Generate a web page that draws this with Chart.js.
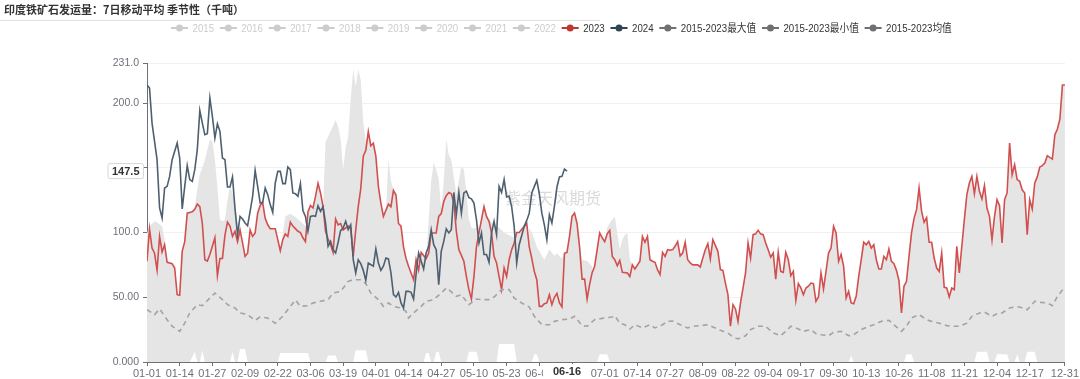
<!DOCTYPE html>
<html>
<head>
<meta charset="utf-8">
<script src="https://cdn.jsdelivr.net/npm/chart.js@4.4.1/dist/chart.umd.min.js"></script>
<style>
  html, body { margin: 0; padding: 0; background: #fff; }
  canvas { display: block; }
</style>
</head>
<body>
<canvas id="seasonChart" width="1080" height="379"></canvas>
<script>
// ================================
// DATA (day index of a leap year, value in kt)
// ================================
const tickDays = [0, 13, 26, 39, 52, 65, 78, 91, 104, 117, 130, 143, 156, 169, 182, 195, 208, 221, 234, 247, 260, 273, 286, 299, 312, 325, 338, 351, 365];
const tickLabels = ['01-01', '01-14', '01-27', '02-09', '02-22', '03-06', '03-19', '04-01', '04-14', '04-27', '05-10', '05-23', '06-05', '06-18',
  '07-01', '07-14', '07-27', '08-09', '08-22', '09-04', '09-17', '09-30', '10-13', '10-26', '11-08', '11-21', '12-04', '12-17', '12-31'];

const yTickValues = [0, 50, 100, 150, 200, 231];
const yTickLabels = ['0.000', '50.00', '100.0', '150.0', '200.0', '231.0'];

const series2023 = [[0,77.8],[1,102.8],[2,88],[3,84],[4,71],[5,97],[6,85],[7,90.6],[8,77],[10,76],[11,72.6],[12,52],[13,51.5],[14,85.5],[15,93],[16,115],[18,116],[19,118],[20,122],[21,120],[22,107],[23,79],[24,78],[25,83],[27,96],[28,66.7],[29,80],[30,80],[31,98],[32,108],[33,105],[34,97],[35,101],[36,93],[37,102],[38,92],[39,81.6],[40,84],[41,102],[42,97],[43,99.7],[44,115],[45,121],[46,123],[47,111],[48,106],[49,103],[51,103],[52,94.5],[53,86],[54,94.5],[55,99],[56,97],[57,108],[58,105],[59,103],[60,101],[61,100],[62,96],[63,93],[64,116],[65,121],[66,119],[67,128],[68,138],[69,130.6],[70,120],[71,101],[72,95],[73,90.6],[74,84.7],[75,110.5],[76,106],[77,107],[78,102],[80,105],[81,103.5],[82,81.6],[83,102],[84,120],[85,134],[86,159],[87,163.5],[88,178],[89,167],[90,169],[91,159],[92,135.7],[93,122.8],[94,112.5],[96,122],[97,120],[98,132.6],[99,129],[100,107],[101,105],[102,89],[103,80],[104,74],[105,68.8],[106,63.6],[107,79],[108,71],[109,84.7],[111,80],[112,84],[113,99.7],[115,99.7],[116,112.5],[117,114.6],[118,124],[119,128.5],[120,131],[121,130],[122,123],[123,101],[124,86.8],[126,77.8],[127,66],[128,55.9],[129,48.7],[130,66],[131,89],[132,99.7],[134,120],[135,112.5],[136,108.7],[137,99.7],[138,81.6],[139,76.5],[140,66],[141,55.9],[142,72.6],[143,66],[144,79],[145,86.8],[146,92],[147,100],[148,100],[150,104.8],[151,107],[152,89],[153,80],[154,70],[155,63.6],[156,43],[157,43],[158,45],[159,45.6],[160,52],[161,44.3],[162,50],[163,53],[164,45.6],[165,42.5],[166,84],[167,84.7],[168,97],[169,112.5],[170,115],[171,107],[172,89],[173,64],[174,64],[175,48.7],[176,60],[177,69],[178,74],[180,99.7],[181,96],[182,93],[183,99],[184,101.7],[185,81.6],[186,79],[187,74.4],[188,78.5],[189,69.3],[191,68.8],[192,66],[193,75],[194,71.9],[196,77.8],[197,97],[198,92.5],[199,97],[200,79],[201,77.8],[202,77],[203,71.3],[204,67.5],[205,84.7],[206,81.6],[207,86.8],[208,86.3],[209,86.8],[210,89.4],[211,93],[212,82],[213,84.2],[214,92.5],[215,79],[216,76.5],[217,75],[219,75],[220,73.4],[221,80.3],[222,86.8],[223,91.4],[224,79.6],[225,94.5],[227,85.5],[228,71.3],[229,70.8],[230,61],[231,52],[232,27.6],[233,44.3],[234,41],[235,31.4],[236,45.6],[238,68.8],[239,92],[240,80.3],[241,98.4],[242,99],[243,101.7],[244,99],[245,98.4],[246,92],[247,86.8],[248,81],[249,84.2],[250,64],[251,84.7],[252,70],[253,69.3],[254,84.7],[255,79],[256,66.7],[257,70],[258,47.6],[259,60.5],[260,57.2],[261,52],[262,57.2],[263,58.5],[264,61],[265,60.5],[266,46.9],[267,50.2],[268,68.8],[269,56.4],[270,70],[271,84.2],[272,88],[273,104.8],[274,99.7],[275,77.8],[276,83.2],[277,74],[278,49.4],[279,54.6],[280,45.6],[281,45],[282,50.7],[283,66.2],[284,79],[285,92.5],[286,90.6],[287,93.2],[288,88],[289,90.6],[290,79],[291,71.9],[292,71.9],[293,81.6],[294,79],[295,87.3],[296,77.8],[297,76],[298,70.8],[299,63],[300,37.9],[301,58.5],[302,62.3],[303,81.6],[304,99.7],[305,111],[306,117.7],[307,134.4],[308,116.4],[309,108],[310,111.5],[311,92.5],[312,92.5],[313,80.3],[314,72.6],[315,70],[316,84.2],[317,57.7],[318,57.2],[319,50.2],[320,57.2],[321,55.9],[322,89.4],[323,68.8],[324,89.4],[325,110],[326,129.3],[327,138.3],[328,143.4],[329,130],[330,143.4],[331,131.9],[332,126],[333,136.2],[334,119],[335,112.5],[336,94.5],[337,112.5],[338,125.4],[339,120.8],[340,92],[341,125.4],[342,130.6],[343,169.2],[344,144.7],[345,152.5],[346,140.9],[347,139.6],[348,133],[349,130.6],[350,98.4],[351,125.4],[352,118.2],[353,138.3],[354,143],[355,150.7],[356,151.7],[357,153.7],[358,159.4],[360,156.8],[361,175.6],[362,180],[363,187.7],[364,214],[365,214]];

const series2024 = [[0,214],[1,211.7],[2,184.6],[3,170.5],[4,156.3],[5,119],[6,111.2],[7,134.4],[8,135.7],[9,143.4],[10,156.3],[12,169.2],[13,157.6],[14,118.2],[15,135.7],[16,151.7],[17,140.9],[18,139.6],[19,148.6],[20,164],[21,194.4],[22,184.6],[23,175.6],[24,176.4],[25,204],[26,189.8],[27,173],[28,184],[29,178.2],[30,157.6],[31,156.3],[32,135.2],[33,135.2],[34,143],[35,118.2],[36,98.4],[37,112.5],[38,110.5],[39,107.4],[40,105.3],[41,116.4],[42,128],[43,148],[44,135.7],[45,122.8],[46,123.4],[47,134.4],[48,129.3],[49,121.6],[50,115.6],[51,138.3],[52,147.3],[53,147.3],[54,137.8],[55,137.8],[56,150.7],[57,148.6],[58,130.6],[59,130],[60,128],[61,137.8],[62,117],[63,112.5],[64,101],[65,112.5],[66,113],[67,112.5],[68,120.8],[69,116.4],[70,120],[71,107.4],[72,89.4],[73,93.2],[74,86.8],[75,84.2],[76,92.5],[77,101.7],[78,103.5],[79,108.7],[80,102.2],[81,106],[82,79],[83,68.8],[84,79],[85,76],[86,70.8],[87,63],[88,76.5],[90,74],[91,87.3],[92,76.5],[93,70.8],[94,74],[95,80.3],[96,79.6],[97,68.8],[98,52],[99,50.2],[100,53.8],[101,45.6],[102,41.7],[103,54.6],[104,54.6],[105,53.8],[106,48.7],[107,68],[108,84.2],[110,71.9],[111,84.2],[112,89.4],[113,102.2],[114,90.6],[115,86.8],[116,59.7],[117,85.5],[118,93.2],[119,102.8],[120,99.7],[121,102.2],[122,131],[123,113.8],[124,131],[125,115],[126,130.6],[127,131.9],[128,127],[129,126],[130,122.8],[131,110],[132,92],[133,99.7],[134,83],[135,83],[136,77],[137,99.7],[138,108.7],[139,98.4],[140,135.7],[141,131],[142,140.9],[143,127.5],[144,128],[145,120],[146,104.8],[147,76.5],[148,90.6],[150,104.8],[151,109.4],[152,115],[153,130.6],[154,135.5],[155,140.4],[156,130],[157,115],[158,106],[159,94.5],[160,113.8],[161,107.4],[162,120.3],[163,135],[164,143],[165,143.4],[166,149.1],[167,147.5]];

const seriesMean = [[0,40.4],[3,36.6],[5,41],[8,32.7],[10,27.6],[13,23.7],[15,30],[17,37.9],[20,44.3],[22,43.5],[25,49.4],[27,53.3],[30,48.2],[32,44.3],[35,41.7],[37,37.9],[40,36.6],[43,32.2],[45,34.8],[48,34],[51,30],[54,35.3],[57,43],[59,48],[61,43],[64,43.5],[66,45.6],[69,46.9],[72,48.2],[74,53.3],[77,54.6],[80,62.3],[82,63.6],[85,63.6],[87,60.5],[89,53.3],[92,48.2],[94,43],[96,45.6],[98,43],[101,41.7],[103,39.1],[104,34],[106,37.9],[109,43],[111,46.9],[114,48.2],[117,53.3],[119,57.2],[120,55.9],[123,50.7],[125,52],[128,44.3],[131,48.7],[133,48.2],[136,48.2],[138,50.2],[141,55.9],[144,55.9],[146,49.4],[149,45.6],[152,42.5],[154,35.3],[157,28.8],[160,28.8],[162,31.4],[165,32.7],[168,33.2],[170,35.3],[173,28.1],[175,27.6],[178,32.7],[182,34],[185,34.8],[186,35.8],[188,30],[190,28.8],[192,25.5],[194,28.8],[197,26.3],[200,28.8],[202,26.3],[205,28.8],[207,31.4],[209,31.7],[212,28.8],[215,26.3],[217,27.6],[220,28.1],[223,28.8],[225,27],[228,24.5],[231,22.4],[233,19.3],[235,17.8],[238,20.3],[240,25],[243,27.6],[246,27.6],[249,22.4],[252,20.3],[254,23.7],[256,27.6],[259,25.5],[261,23.7],[264,25],[266,21.9],[268,21.1],[271,20.3],[273,22.9],[276,23.7],[279,20.3],[281,21.1],[284,25],[287,27.6],[289,28.8],[292,31.4],[295,32.2],[297,28.8],[300,23.7],[302,27.6],[304,34],[307,36.6],[310,32.7],[312,31.4],[315,30],[318,28.1],[320,27.6],[323,27.6],[326,30],[328,35.3],[331,37.9],[333,38.6],[336,35.3],[338,37.3],[340,37.9],[343,41.7],[345,42.5],[347,42.5],[350,40.4],[353,46.9],[355,46.1],[358,45.6],[360,43.5],[362,50.7],[365,58]];

// 2015-2023 max, where it rises above the 2023 line (null = gap)
const seriesMax = [[0,99.7],[1,104.8],[3,108.7],[4,108],[6,104.8],[7,94.5],[8,77],[9,null],
  [18,116],[19,120],[20,133],[21,145],[22,150],[23,156],[24,164],[25,171.8],[26,170.5],[27,156],[28,135],[29,110],[30,108.7],[31,110],[32,125],[33,135.7],[34,130.6],[35,125],[36,108],[37,102],[38,null],
  [53,86],[54,100],[55,112.5],[57,114.6],[59,112],[61,108.7],[63,105],[64,116],[65,null],
  [70,120],[71,170],[73,178],[75,187],[76,182],[77,172],[78,149],[79,166],[80,174],[81,203],[82,226],[83,213],[84,226],[85,218],[86,185],[87,170],[88,178],[89,null],
  [95,115],[96,157],[97,140],[98,132.6],[99,null],
  [111,80],[112,110],[113,140],[114,154],[115,149],[116,141],[117,118],[118,140],[119,172],[120,160],[121,156],[122,143],[123,130],[124,140],[125,151],[126,149],[127,131],[128,110],[129,104],[130,103],[131,104],[132,105],[133,null],
  [136,110],[138,106],[140,104],[142,100],[144,98],[146,96],[147,100],[148,null],
  [152,104],[153,100],[154,95],[155,89],[157,82],[158,79],[160,87],[162,82],[163,84],[165,80],[166,84],[167,null],
  [172,89],[173,79],[175,78],[177,74],[178,null],
  [182,93],[183,104],[184,107.4],[185,110],[186,112.5],[187,99.7],[188,87],[189,94.5],[190,98.4],[191,99.7],[192,79],[193,75]];

// 2015-2023 min
const seriesMin = [[0,0],[17,0],[19,8],[20,0],[21,0],[22,9],[23,0],[33,0],[34,8],[35,0],[36,0],[37,10],[39,10],[40,0],[52,0],[53,7],[60,7],[64,7],[65,0],[71,0],[72,5],[75,5],[76,0],[82,0],[83,9],[87,9],[88,0],[110,0],[111,7],[112,7],[113,0],[114,0],[115,8],[116,8],[117,0],[127,0],[128,8],[131,8],[132,0],[139,0],[140,14],[146,14],[147,0],[153,0],[154,6],[155,6],[156,0],[179,0],[180,6],[183,6],[184,0],[279,0],[280,5],[281,0],[301,0],[302,6],[304,6],[305,0],[329,0],[330,8],[334,8],[335,0],[337,0],[338,6],[342,6],[343,0],[345,0],[346,6],[347,0],[349,0],[350,8],[353,8],[354,0],[365,0]];

const legendNames = ['2015', '2016', '2017', '2018', '2019', '2020', '2021', '2022', '2023', '2024', '2015-2023最大值', '2015-2023最小值', '2015-2023均值'];
const legendColors = ['#cccccc', '#cccccc', '#cccccc', '#cccccc', '#cccccc', '#cccccc', '#cccccc', '#cccccc', '#c23531', '#2f4554', '#6e7074', '#6e7074', '#6e7074'];
const legendTextColors = ['#cccccc', '#cccccc', '#cccccc', '#cccccc', '#cccccc', '#cccccc', '#cccccc', '#cccccc', '#333333', '#333333', '#333333', '#333333', '#333333'];

const chartTitle = '印度铁矿石发运量：7日移动平均 季节性（千吨）';
const watermark = '紫金天风期货';
const pointerDay = 167;
const pointerDayLabel = '06-16';
const pointerValue = 147.5;

// ================================
// Helpers
// ================================
const toPoints = arr => arr.map(([x, y]) => ({ x, y }));
const TICK_FONT = "'Liberation Sans', 'Noto Sans CJK SC', sans-serif";
const AXIS_COLOR = '#6e7079';
const AREA_GRAY = '#e5e5e5';
const LEGEND_SQUEEZE = 0.88;

// Title, legend, watermark, axis-pointer labels
const decorPlugin = {
  id: 'decor',
  beforeDatasetsDraw(chart) {
    const ctx = chart.ctx;
    ctx.save();
    ctx.font = "16px 'Noto Sans CJK SC', sans-serif";
    ctx.fillStyle = 'rgba(120,120,120,0.28)';
    ctx.textAlign = 'left';
    ctx.textBaseline = 'middle';
    ctx.fillText(watermark, 505, 198);
    ctx.restore();
  },
  afterDraw(chart) {
    const ctx = chart.ctx;
    ctx.save();

    // title
    ctx.font = "bold 11px 'Noto Sans CJK SC', sans-serif";
    ctx.fillStyle = '#333';
    ctx.textAlign = 'left';
    ctx.textBaseline = 'middle';
    ctx.fillText(chartTitle, 4, 10);

    ctx.strokeStyle = '#e0e0e0';
    ctx.lineWidth = 1;
    ctx.beginPath();
    ctx.moveTo(0, 20.5);
    ctx.lineTo(600, 20.5);
    ctx.stroke();

    // legend (text squeezed a little, like the narrow UI font of the original)
    ctx.font = '11px ' + TICK_FONT;
    let lx = 171;
    const ly = 28;
    legendNames.forEach((name, i) => {
      ctx.strokeStyle = legendColors[i];
      ctx.fillStyle = legendColors[i];
      ctx.lineWidth = 2;
      ctx.beginPath();
      ctx.moveTo(lx, ly);
      ctx.lineTo(lx + 17, ly);
      ctx.stroke();
      ctx.beginPath();
      ctx.arc(lx + 8.5, ly, 3.5, 0, Math.PI * 2);
      ctx.fill();
      ctx.fillStyle = legendTextColors[i];
      const tw = ctx.measureText(name).width * LEGEND_SQUEEZE;
      ctx.save();
      ctx.translate(lx + 21.5, ly + 0.5);
      ctx.scale(LEGEND_SQUEEZE, 1);
      ctx.fillText(name, 0, 0);
      ctx.restore();
      lx += 21.5 + tw + 5.8;
    });

    // axis pointer labels
    const xs = chart.scales.x, ys = chart.scales.y;
    const py = ys.getPixelForValue(pointerValue);
    ctx.font = "bold 11px 'Liberation Sans', sans-serif";
    ctx.textBaseline = 'middle';
    ctx.textAlign = 'center';
    const yText = pointerValue.toFixed(1);
    const yw = ctx.measureText(yText).width + 8;
    ctx.fillStyle = '#fff';
    ctx.strokeStyle = '#d6d6d6';
    ctx.lineWidth = 1;
    ctx.beginPath();
    ctx.roundRect(143.5 - yw, py - 7.5, yw, 15, 2);
    ctx.fill();
    ctx.stroke();
    ctx.fillStyle = '#333';
    ctx.fillText(yText, 143.5 - yw / 2, py + 0.5);

    const px = xs.getPixelForValue(pointerDay);
    const xw = ctx.measureText(pointerDayLabel).width + 20;
    ctx.fillStyle = '#fff';
    ctx.fillRect(px - xw / 2, xs.top + 2, xw, 15);
    ctx.fillStyle = '#333';
    ctx.fillText(pointerDayLabel, px, xs.top + 10);

    ctx.restore();
  }
};

// ================================
// Chart
// ================================
new Chart(document.getElementById('seasonChart'), {
  type: 'line',
  data: {
    datasets: [
      {
        label: '2015-2023最大值',
        data: toPoints(seriesMax),
        borderColor: 'transparent',
        borderWidth: 0,
        backgroundColor: AREA_GRAY,
        fill: 'origin',
        spanGaps: false,
        order: 10
      },
      {
        label: '2023',
        data: toPoints(series2023),
        borderColor: '#d24f4f',
        borderWidth: 1.6,
        backgroundColor: AREA_GRAY,
        fill: 'origin',
        order: 9
      },
      {
        label: '2015-2023最小值',
        data: toPoints(seriesMin),
        borderColor: 'transparent',
        borderWidth: 0,
        backgroundColor: '#ffffff',
        fill: 'origin',
        order: 8
      },
      {
        label: '2015-2023均值',
        data: toPoints(seriesMean),
        borderColor: '#a3a3a3',
        borderWidth: 1.6,
        borderDash: [5, 4],
        fill: false,
        order: 7
      },
      {
        label: '2024',
        data: toPoints(series2024),
        borderColor: '#4e6070',
        borderWidth: 1.6,
        fill: false,
        order: 6
      }
    ]
  },
  options: {
    responsive: false,
    animation: false,
    devicePixelRatio: 1,
    layout: { padding: { top: 63, right: 14, bottom: 0, left: 0 } },
    elements: { point: { radius: 0 }, line: { tension: 0 } },
    plugins: {
      legend: { display: false },
      title: { display: false },
      tooltip: { enabled: false },
      filler: { drawTime: 'beforeDatasetsDraw' }
    },
    scales: {
      x: {
        type: 'linear',
        min: 0,
        max: 365,
        z: 1,
        afterBuildTicks: axis => { axis.ticks = tickDays.map(v => ({ value: v })); },
        afterFit: axis => { axis.height = 17; },
        ticks: {
          autoSkip: false,
          maxRotation: 0,
          padding: 1,
          color: AXIS_COLOR,
          font: { family: TICK_FONT, size: 11 },
          callback: v => tickLabels[tickDays.indexOf(v)]
        },
        grid: { drawOnChartArea: false, drawTicks: true, tickLength: 4, tickColor: AXIS_COLOR },
        border: { display: true, color: AXIS_COLOR, width: 1 }
      },
      y: {
        min: 0,
        max: 231,
        z: 1,
        afterBuildTicks: axis => { axis.ticks = yTickValues.map(v => ({ value: v })); },
        afterFit: axis => { axis.width = 147; },
        ticks: {
          padding: 4,
          color: AXIS_COLOR,
          font: { family: TICK_FONT, size: 10.5 },
          callback: v => yTickLabels[yTickValues.indexOf(v)]
        },
        grid: { color: 'rgba(0,0,0,0.06)', tickLength: 4, tickColor: AXIS_COLOR },
        border: { display: true, color: AXIS_COLOR, width: 1 }
      }
    }
  },
  plugins: [decorPlugin]
});
</script>
</body>
</html>
